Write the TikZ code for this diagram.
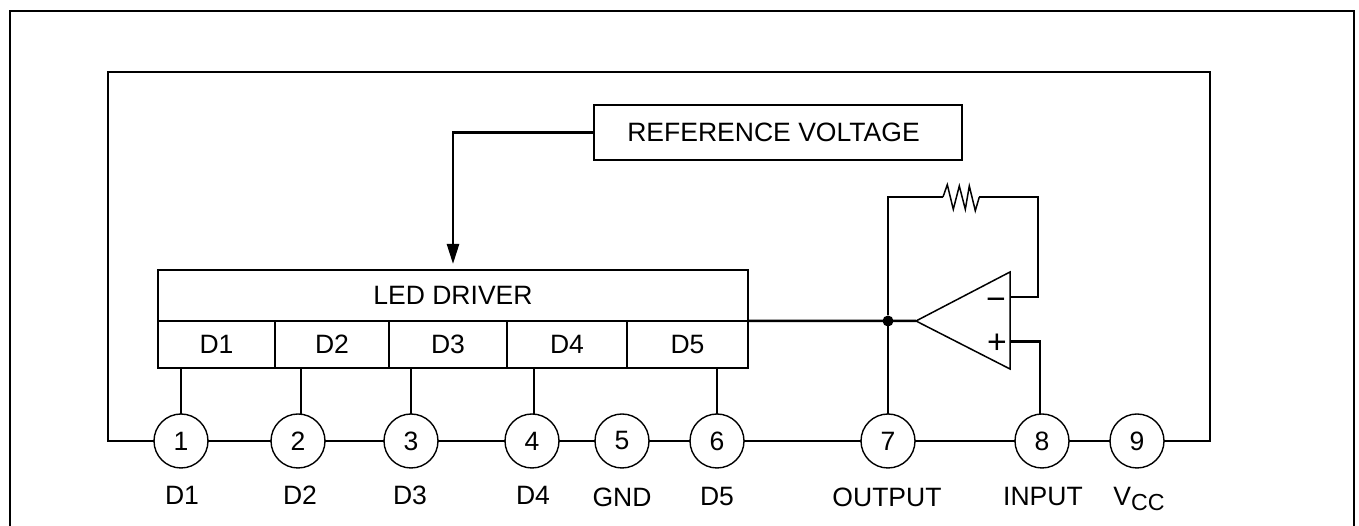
\documentclass[tikz,border=0pt]{standalone}
\usepackage{fontspec}
\setmainfont{Liberation Sans}
\usetikzlibrary{arrows.meta}
\tikzset{
  wire/.style={line width=0.025cm},
  thinline/.style={line width=0.015cm},
  box/.style={draw, line width=0.025cm, rectangle, inner sep=0pt, outer sep=0pt},
  pin/.style={draw, line width=0.014cm, circle, minimum size=0.54cm, inner sep=0pt, outer sep=0pt},
  jdot/.style={fill=black, circle, minimum size=0.11cm, inner sep=0pt, outer sep=0pt},
  tag/.style={inner sep=0pt, outer sep=0pt},
  sign/.style={inner sep=0pt, outer sep=0pt, font=\fontsize{9.6}{11}\selectfont}
}
\begin{document}
\begin{tikzpicture}[every node/.style={font=\fontsize{7.55}{9}\selectfont}]
\useasboundingbox (0,0) rectangle (13.59,5.26);
\draw[wire] (0.10,0) -- (0.10,5.15) -- (13.54,5.15) -- (13.54,0);

\node[box, minimum width=3.68cm, minimum height=0.55cm] (refv) at (7.78,3.935) {REFERENCE VOLTAGE\kern0.09cm};
\node[box, minimum width=5.90cm, minimum height=0.51cm] (led) at (4.53,2.305) {LED DRIVER};
\node[box, minimum width=1.17cm, minimum height=0.47cm] (cell1) at (2.165,1.815) {D1};
\node[box, minimum width=1.14cm, minimum height=0.47cm] (cell2) at (3.32,1.815) {D2};
\node[box, minimum width=1.18cm, minimum height=0.47cm] (cell3) at (4.48,1.815) {D3};
\node[box, minimum width=1.20cm, minimum height=0.47cm] (cell4) at (5.67,1.815) {D4};
\node[box, minimum width=1.21cm, minimum height=0.47cm] (cell5) at (6.875,1.815) {D5};

\node[pin] (pin1) at (1.81,0.85) {1}; \node[pin] (pin2) at (2.98,0.85) {2}; \node[pin] (pin3) at (4.11,0.85) {3};
\node[pin] (pin4) at (5.32,0.85) {4}; \node[pin] (pin5) at (6.22,0.85) {5}; \node[pin] (pin6) at (7.17,0.85) {6};
\node[pin] (pin7) at (8.88,0.85) {7}; \node[pin] (pin8) at (10.42,0.85) {8}; \node[pin] (pin9) at (11.37,0.85) {9};

\node[tag] (lab1) at (1.82,0.31) {D1}; \node[tag] (lab2) at (3.00,0.31) {D2}; \node[tag] (lab3) at (4.10,0.31) {D3};
\node[tag] (lab4) at (5.33,0.31) {D4}; \node[tag] (lab5) at (6.22,0.29) {GND}; \node[tag] (lab6) at (7.17,0.29) {D5};
\node[tag] (lab7) at (8.87,0.29) {OUTPUT}; \node[tag] (lab8) at (10.43,0.29) {INPUT};
\node[tag] (lab9) at (11.39,0.27) {V\raisebox{-0.05cm}{\fontsize{6.6}{8}\selectfont CC}};

\coordinate (oaout) at (9.16,2.05); \coordinate (oatop) at (10.10,2.54); \coordinate (oabot) at (10.10,1.57);
\coordinate (oaneg) at (10.10,2.29); \coordinate (oapos) at (10.10,1.845);
\coordinate (resl) at (9.43,3.29); \coordinate (resr) at (9.793,3.29); \coordinate (fbr) at (10.38,3.29);
\coordinate (lowl) at (1.08,0.85); \coordinate (lowr) at (12.10,0.85);
\coordinate (topl) at (1.08,4.54); \coordinate (topr) at (12.10,4.54);
\node[jdot] (jn) at (8.88,2.05) {};

\draw[thinline] (oaout) -- (oatop) -- (oabot) -- cycle;
\node[sign] (minus) at (9.96,2.22) {−}; \node[sign] (plus) at (9.97,1.82) {+};
\draw[thinline] (resl) -- (9.473,3.413) -- (9.533,3.167) -- (9.593,3.40) -- (9.653,3.167) -- (9.693,3.40) -- (9.753,3.153) -- (resr);

\draw[wire, -{Triangle[length=0.2cm,width=0.12cm]}, shorten >=0.06cm] (refv.west) -| (led.north);
\draw[wire] (led.south east) -- (oaout);
\draw[wire] (pin7.north) -- (jn) |- (resl);
\draw[wire] (resr) -- (fbr) |- (oaneg);
\draw[wire] (oapos) -| (pin8.94);

\draw[wire] (pin1.north) -- (pin1.north |- cell1.south);
\draw[wire] (pin2.84) -- (pin2.84 |- cell2.south);
\draw[wire] (pin3.north) -- (pin3.north |- cell3.south);
\draw[wire] (pin4.86) -- (pin4.86 |- cell4.south);
\draw[wire] (pin6.north) -- (pin6.north |- cell5.south);

\draw[wire] (pin1.west) -- (lowl) -- (topl) -- (topr) -- (lowr) -- (pin9.east);
\draw[wire] (pin1) -- (pin2); \draw[wire] (pin2) -- (pin3); \draw[wire] (pin3) -- (pin4); \draw[wire] (pin4) -- (pin5);
\draw[wire] (pin5) -- (pin6); \draw[wire] (pin6) -- (pin7); \draw[wire] (pin7) -- (pin8); \draw[wire] (pin8) -- (pin9);
\end{tikzpicture}
\end{document}
